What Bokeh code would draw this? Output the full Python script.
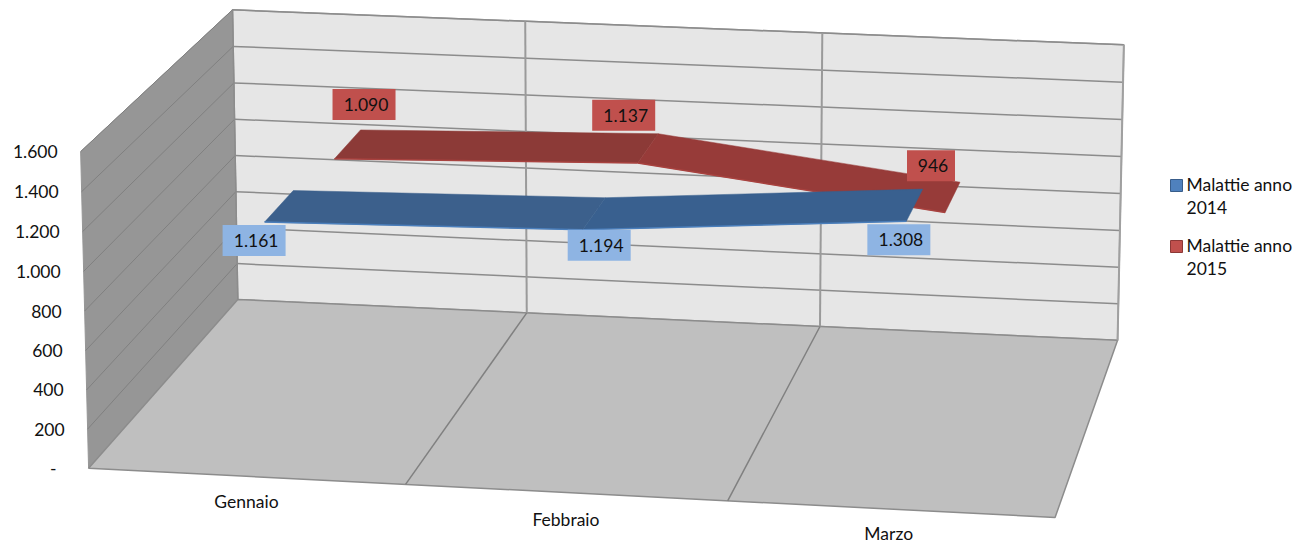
import numpy as np
from bokeh.plotting import figure
from bokeh.models import Range1d
from bokeh.core.properties import value
from bokeh.embed import file_html
from bokeh.resources import INLINE

# ---- data ----
categories = ["Gennaio", "Febbraio", "Marzo"]
malattie_2014 = [1161, 1194, 1308]
malattie_2015 = [1090, 1137, 946]
labels_2014 = ["1.161", "1.194", "1.308"]
labels_2015 = ["1.090", "1.137", "946"]
tick_values = [0, 200, 400, 600, 800, 1000, 1200, 1400, 1600]
tick_labels = ["-", "200", "400", "600", "800", "1.000", "1.200", "1.400", "1.600"]
legend_labels = ["Malattie anno\n2014", "Malattie anno\n2015"]
y_max = 1600

# ---- 3D projection calibrated on the box corners: (category, value, depth) -> pixels ----
calib = [
    (0, 0, 0, 88, 467), (1, 0, 0, 405, 484), (2, 0, 0, 727, 500), (3, 0, 0, 1055, 517),
    (0, 0, 1, 237, 299), (1, 0, 1, 527, 312), (2, 0, 1, 819, 327), (3, 0, 1, 1117, 340),
    (0, 1600, 1, 232, 9), (1, 1600, 1, 525, 21), (2, 1600, 1, 822, 32), (3, 1600, 1, 1123, 44),
    (0, 1600, 0, 80, 152),
]
A, b = [], []
for cx, v, z, u, w in calib:
    Y = v / y_max
    A.append([cx, Y, z, 1, 0, 0, 0, 0, -u * cx, -u * Y, -u * z]); b.append(u)
    A.append([0, 0, 0, 0, cx, Y, z, 1, -w * cx, -w * Y, -w * z]); b.append(w)
m = np.linalg.lstsq(np.array(A, float), np.array(b, float), rcond=None)[0]
M = np.append(m, 1.0).reshape(3, 4)


def proj(cx, v, z):
    h = M @ np.array([cx, v / y_max, z, 1.0])
    return h[0] / h[2], h[1] / h[2]


FONT = value("Lato")
FS = "17.5px"

p = figure(width=1297, height=545, x_range=Range1d(0, 1297), y_range=Range1d(545, 0),
           output_backend="svg", toolbar_location=None, min_border=0,
           background_fill_color="white", border_fill_color="white")
p.xaxis.visible = False
p.yaxis.visible = False
p.grid.visible = False
p.outline_line_color = None


def poly(points, **kw):
    xs, ys = zip(*points)
    p.patch(list(xs), list(ys), **kw)


def seg(a, b_, **kw):
    p.line([a[0], b_[0]], [a[1], b_[1]], **kw)


# walls and floor
poly([proj(0, 0, 1), proj(3, 0, 1), proj(3, y_max, 1), proj(0, y_max, 1)], fill_color="#E6E6E6", line_color="#A0A0A0", line_width=1.5)
poly([proj(0, 0, 0), proj(0, 0, 1), proj(0, y_max, 1), proj(0, y_max, 0)], fill_color="#969696", line_color="#969696", line_width=1)
poly([proj(0, 0, 0), proj(3, 0, 0), proj(3, 0, 1), proj(0, 0, 1)], fill_color="#BFBFBF", line_color="#8C8C8C", line_width=1.5)

for t in tick_values[1:]:
    seg(proj(0, t, 1), proj(3, t, 1), line_color="#8C8C8C", line_width=1.5)
    seg(proj(0, t, 0), proj(0, t, 1), line_color="#808080", line_width=1)
for i in (1, 2):
    seg(proj(i, 0, 1), proj(i, y_max, 1), line_color="#9A9A9A", line_width=2)
    seg(proj(i, 0, 0), proj(i, 0, 1), line_color="#808080", line_width=1.5)
seg(proj(0, 0, 1), proj(0, y_max, 1), line_color="#8C8C8C", line_width=1.5)
seg(proj(3, 0, 1), proj(3, y_max, 1), line_color="#A0A0A0", line_width=2)


def band(values, z0, z1, shades, edge):
    pts = [(i + 0.5, v) for i, v in enumerate(values)]
    for k in range(len(pts) - 1):
        (c0, v0), (c1, v1) = pts[k], pts[k + 1]
        poly([proj(c0, v0, z0), proj(c1, v1, z0), proj(c1, v1, z1), proj(c0, v0, z1)],
             fill_color=shades[k], line_color=shades[k], line_width=0.5)
        seg(proj(c0, v0, z0), proj(c1, v1, z0), line_color=edge, line_width=1.5)


Z1 = (0.15, 0.35)
Z2 = (0.65, 0.85)
band(malattie_2015, Z2[0], Z2[1], ["#8C3A37", "#973B39"], "#A8423F")
band(malattie_2014, Z1[0], Z1[1], ["#3C608C", "#39608F"], "#4A7EBB")


def data_labels(values, texts, z, offsets, fill):
    for i, (v, t, (ox, oy)) in enumerate(zip(values, texts, offsets)):
        ax, ay = proj(i + 0.5, v, z)
        cx, cy = ax + ox, ay + oy
        hw = 31.5 if len(t) > 3 else 24
        p.quad(left=cx - hw, right=cx + hw, top=cy - 15.5, bottom=cy + 15.5, fill_color=fill, line_color=None)
        p.text([cx + 2], [cy], text=[t], text_font=FONT, text_font_size=FS, text_color="#111111",
               text_align="center", text_baseline="middle")


data_labels(malattie_2015, labels_2015, Z2[1], [(3.5, -25.5), (-34.5, -18.5), (-29, -16.5)], "#C0504D")
data_labels(malattie_2014, labels_2014, Z1[0], [(-10.5, 18.5), (16.5, 15.5), (-7.5, 18.5)], "#8EB4E3")

# value axis labels
for t, lab in zip(tick_values, tick_labels):
    x, y = proj(0, t, 0)
    p.text([x - (32 if lab == "-" else 23)], [y], text=[lab], text_font=FONT, text_font_size=FS,
           text_color="#111111", text_align="right", text_baseline="middle")

# category labels
cat_drop = [25, 27, 24]
for i, c in enumerate(categories):
    x, y = proj(i + 0.5, 0, 0)
    p.text([x - (2 if i == 2 else 0)], [y + cat_drop[i]], text=[c], text_font=FONT, text_font_size=FS,
           text_color="#111111", text_align="center", text_baseline="middle")

# legend
sw = [("#4F81BD", "#385D8A"), ("#C0504D", "#8C3836")]
for k, (lab, (fc, lc)) in enumerate(zip(legend_labels, sw)):
    top = 179 + 61 * k
    p.quad(left=1170, right=1182, top=top, bottom=top + 12, fill_color=fc, line_color=lc, line_width=1)
    p.text([1186], [top - 6], text=[lab], text_font=FONT, text_font_size=FS, text_color="#111111",
           text_align="left", text_baseline="top", text_line_height=1.12)

open("out.html", "w").write(file_html(p, INLINE))
